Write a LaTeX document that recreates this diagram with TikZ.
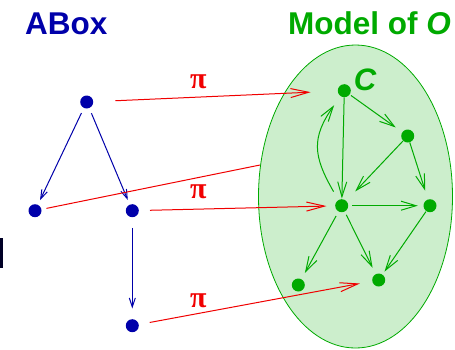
\documentclass[tikz,border=0pt]{standalone}
\usepackage{fontspec}
\setmainfont{Liberation Sans}
\newfontfamily\grk{Liberation Serif}
\usetikzlibrary{arrows.meta,shapes.geometric}
\definecolor{aboxblue}{RGB}{0,0,170}
\definecolor{modgreen}{RGB}{0,170,0}
\definecolor{modfill}{RGB}{204,238,204}
\definecolor{pired}{RGB}{240,0,0}
\tikzset{
  bdot/.style={circle,fill=aboxblue,inner sep=0pt,minimum size=13pt},
  gdot/.style={circle,fill=modgreen,inner sep=0pt,minimum size=13pt},
  bedge/.style={draw=aboxblue,line width=1pt,-{Straight Barb[length=9pt,width=6pt,line width=1pt]}},
  gedge/.style={draw=modgreen,line width=1pt,-{Straight Barb[length=15pt,width=9pt,line width=1pt]}},
  redge/.style={draw=pired,line width=1pt,-{Straight Barb[length=18pt,width=9pt,line width=1pt]}},
  rline/.style={draw=pired,line width=1pt},
  pilabel/.style={text=pired,font=\grk\bfseries\fontsize{30}{30}\selectfont,inner sep=0pt},
  title/.style={font=\fontsize{31.5}{31.5}\selectfont\bfseries,inner sep=0pt,anchor=base west}
}
\begin{document}
\begin{tikzpicture}[x=1pt,y=-1pt]
\useasboundingbox (0,0) rectangle (455,349);
% titles
\node[title,text=aboxblue] (tabox) at (25,34.5) {ABox};
\node[title,text=modgreen] (tmod) at (288,34.5) {Model of \itshape O};
% artifact bar
\fill[black!85!blue] (0,238) rectangle (3,268);
% ellipse
\node[draw=modgreen,fill=modfill,line width=0.8pt,ellipse,minimum width=194pt,minimum height=303pt,inner sep=0pt] (model) at (355.5,196.5) {};
% ABox nodes
\node[bdot] (a) at (86.7,102) {};
\node[bdot] (b) at (35,210.7) {};
\node[bdot] (m) at (132.3,210.7) {};
\node[bdot] (d) at (132.3,325.7) {};
% model nodes
\node[gdot] (c) at (344.3,90.7) {};
\node[inner sep=0pt,text=modgreen,font=\fontsize{31}{31}\selectfont\bfseries\itshape] (clab) at (365,80) {C};
\node[gdot] (ru) at (407.7,136) {};
\node[gdot] (ce) at (341.7,205.7) {};
\node[gdot] (r) at (430,205.7) {};
\node[gdot] (bl) at (298.3,285) {};
\node[gdot] (bm) at (378.7,280) {};
% ABox edges
\draw[bedge,shorten <=5.5pt,shorten >=5pt] (a) -- (b);
\draw[bedge,shorten <=5.5pt,shorten >=5pt] (a) -- (m);
\draw[bedge,shorten <=10.5pt,shorten >=10.5pt] (m) -- (d);
% model edges
\draw[gedge,shorten >=0.5pt] (c) -- (ce);
\draw[gedge,shorten <=1.5pt,shorten >=8pt] (c) -- (ru);
\draw[gedge,shorten >=13pt] (ru) -- (ce);
\draw[gedge,shorten >=9pt] (ru) -- (r);
\draw[gedge,shorten <=4pt,shorten >=5.5pt] (ce) -- (r);
\draw[gedge,shorten <=5pt,shorten >=7pt] (ce) -- (bl);
\draw[gedge,shorten <=3.5pt,shorten >=7pt] (ce) -- (bm);
\draw[gedge,shorten <=0.5pt,shorten >=3.5pt] (r) -- (bm);
\draw[gedge,shorten <=9.5pt,shorten >=11pt] (ce) to[out=120,in=235,looseness=1.25] (c);
% mapping pi
\coordinate (edgept) at (260,165);
\draw[redge,shorten <=22pt,shorten >=27pt] (a) -- (c);
\draw[rline,shorten <=5pt] (b) -- (edgept);
\draw[redge,shorten <=11pt,shorten >=8.5pt] (m) -- (ce);
\draw[redge,shorten <=11pt,shorten >=12.5pt] (d) -- (bm);
\node[pilabel] (pi1) at (198.3,82) {π};
\node[pilabel] (pi2) at (198.3,192) {π};
\node[pilabel] (pi3) at (198.3,300.5) {π};
\end{tikzpicture}
\end{document}
